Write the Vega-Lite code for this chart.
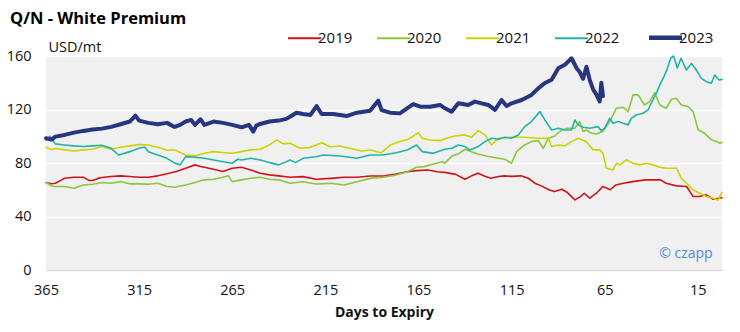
{
"$schema": "https://vega.github.io/schema/vega-lite/v6.json",
"width": 676, "height": 214,
"autosize": {"type": "none"},
"padding": {"left": 46, "top": 56, "right": 18, "bottom": 62},
"background": "white",
"config": {"view": {"fill": "#f0f0f0", "stroke": null}, "font": "Open Sans"},
"title": {"text": "Q/N - White Premium", "anchor": "start", "frame": "group", "fontSize": 16.5, "fontWeight": "bold", "color": "#000000", "dx": -36, "dy": 1},
"data": {"values": [
{"year":"2019","day":365,"value":65.4},{"year":"2019","day":362,"value":64.5},{"year":"2019","day":360,"value":64.9},{"year":"2019","day":357,"value":67},{"year":"2019","day":355,"value":68.6},{"year":"2019","day":350,"value":69.4},{"year":"2019","day":345,"value":69.4},{"year":"2019","day":342,"value":67},{"year":"2019","day":340,"value":66.9},{"year":"2019","day":337,"value":68.5},{"year":"2019","day":335,"value":69.1},{"year":"2019","day":330,"value":69.9},{"year":"2019","day":325,"value":70.4},{"year":"2019","day":320,"value":69.9},{"year":"2019","day":315,"value":69.4},{"year":"2019","day":310,"value":69.4},{"year":"2019","day":305,"value":70.4},{"year":"2019","day":300,"value":71.9},{"year":"2019","day":295,"value":73.6},{"year":"2019","day":290,"value":76.1},{"year":"2019","day":285,"value":78.6},{"year":"2019","day":282,"value":77.4},{"year":"2019","day":280,"value":76.8},{"year":"2019","day":275,"value":75.3},{"year":"2019","day":270,"value":73.6},{"year":"2019","day":265,"value":76.1},{"year":"2019","day":260,"value":76.8},{"year":"2019","day":255,"value":74.8},{"year":"2019","day":250,"value":72.4},{"year":"2019","day":245,"value":71.1},{"year":"2019","day":240,"value":70.4},{"year":"2019","day":234,"value":69.3},{"year":"2019","day":227,"value":69.8},{"year":"2019","day":220,"value":67.8},{"year":"2019","day":212,"value":68.5},{"year":"2019","day":205,"value":69.3},{"year":"2019","day":198,"value":69.3},{"year":"2019","day":191,"value":70.3},{"year":"2019","day":184,"value":70.3},{"year":"2019","day":177,"value":71.8},{"year":"2019","day":171,"value":73.5},{"year":"2019","day":166,"value":74.3},{"year":"2019","day":160,"value":74.8},{"year":"2019","day":155,"value":73.5},{"year":"2019","day":150,"value":72.8},{"year":"2019","day":145,"value":71.5},{"year":"2019","day":140,"value":67.9},{"year":"2019","day":136.5,"value":70.4},{"year":"2019","day":133,"value":72.4},{"year":"2019","day":129,"value":69.9},{"year":"2019","day":126,"value":68.6},{"year":"2019","day":122,"value":69.9},{"year":"2019","day":119,"value":70.4},{"year":"2019","day":115,"value":70},{"year":"2019","day":110,"value":70.4},{"year":"2019","day":106,"value":68.6},{"year":"2019","day":102.5,"value":64.9},{"year":"2019","day":99,"value":62.9},{"year":"2019","day":95,"value":60},{"year":"2019","day":92,"value":58.7},{"year":"2019","day":88,"value":60.4},{"year":"2019","day":85,"value":57.9},{"year":"2019","day":81,"value":52.4},{"year":"2019","day":78,"value":54.9},{"year":"2019","day":76,"value":57.4},{"year":"2019","day":73,"value":53.7},{"year":"2019","day":69.4,"value":57.4},{"year":"2019","day":66,"value":62.4},{"year":"2019","day":62,"value":60},{"year":"2019","day":59,"value":63.6},{"year":"2019","day":55,"value":64.9},{"year":"2019","day":50,"value":66.1},{"year":"2019","day":43,"value":67.4},{"year":"2019","day":35,"value":67.4},{"year":"2019","day":32,"value":64.9},{"year":"2019","day":26.5,"value":62.9},{"year":"2019","day":21,"value":62.4},{"year":"2019","day":17.5,"value":54.9},{"year":"2019","day":14,"value":54.9},{"year":"2019","day":10.4,"value":56.2},{"year":"2019","day":6.8,"value":52.9},{"year":"2019","day":4,"value":53.7},{"year":"2019","day":2,"value":54},
{"year":"2020","day":365,"value":65.4},{"year":"2020","day":362,"value":63},{"year":"2020","day":360,"value":62.4},{"year":"2020","day":355,"value":62.4},{"year":"2020","day":350,"value":61.1},{"year":"2020","day":345,"value":63.6},{"year":"2020","day":340,"value":64.1},{"year":"2020","day":335,"value":65.4},{"year":"2020","day":330,"value":64.9},{"year":"2020","day":325,"value":66.1},{"year":"2020","day":320,"value":64.4},{"year":"2020","day":315,"value":64.4},{"year":"2020","day":310,"value":64.1},{"year":"2020","day":305,"value":64.9},{"year":"2020","day":300,"value":62.4},{"year":"2020","day":296,"value":61.9},{"year":"2020","day":290,"value":63.6},{"year":"2020","day":285,"value":65.4},{"year":"2020","day":280,"value":67.4},{"year":"2020","day":275,"value":67.9},{"year":"2020","day":270,"value":69.4},{"year":"2020","day":267,"value":70.4},{"year":"2020","day":265,"value":66.1},{"year":"2020","day":260,"value":67.4},{"year":"2020","day":255,"value":68.6},{"year":"2020","day":250,"value":69.4},{"year":"2020","day":245,"value":67.9},{"year":"2020","day":240,"value":67.4},{"year":"2020","day":234,"value":64.8},{"year":"2020","day":227,"value":66},{"year":"2020","day":220,"value":64.3},{"year":"2020","day":212,"value":64.8},{"year":"2020","day":205,"value":63.6},{"year":"2020","day":198,"value":66},{"year":"2020","day":191,"value":68.5},{"year":"2020","day":184,"value":69.3},{"year":"2020","day":177,"value":71},{"year":"2020","day":171,"value":73.5},{"year":"2020","day":166,"value":76.8},{"year":"2020","day":162,"value":77.3},{"year":"2020","day":157,"value":79.3},{"year":"2020","day":152,"value":81},{"year":"2020","day":150.8,"value":79.8},{"year":"2020","day":147,"value":85.3},{"year":"2020","day":143.6,"value":86.8},{"year":"2020","day":140,"value":90.3},{"year":"2020","day":136.5,"value":88.5},{"year":"2020","day":133,"value":86.8},{"year":"2020","day":127.5,"value":84.8},{"year":"2020","day":122,"value":83.5},{"year":"2020","day":118.6,"value":82.8},{"year":"2020","day":115,"value":79.8},{"year":"2020","day":112.3,"value":88.5},{"year":"2020","day":108,"value":93.5},{"year":"2020","day":104.3,"value":96},{"year":"2020","day":100.7,"value":96.8},{"year":"2020","day":98,"value":91},{"year":"2020","day":95.3,"value":98.5},{"year":"2020","day":91.7,"value":100.2},{"year":"2020","day":88.2,"value":104.7},{"year":"2020","day":84.6,"value":106},{"year":"2020","day":81,"value":106},{"year":"2020","day":78.4,"value":111},{"year":"2020","day":76.6,"value":103.5},{"year":"2020","day":74.8,"value":104.7},{"year":"2020","day":72,"value":102.2},{"year":"2020","day":69.4,"value":101.7},{"year":"2020","day":66,"value":103.5},{"year":"2020","day":62.3,"value":111},{"year":"2020","day":58.7,"value":120.9},{"year":"2020","day":55,"value":121.7},{"year":"2020","day":52.4,"value":118.4},{"year":"2020","day":49.8,"value":130.9},{"year":"2020","day":47,"value":130.9},{"year":"2020","day":45.3,"value":127.1},{"year":"2020","day":43.5,"value":123.4},{"year":"2020","day":40.8,"value":125.9},{"year":"2020","day":38.1,"value":132.6},{"year":"2020","day":35.4,"value":123.4},{"year":"2020","day":32,"value":120.9},{"year":"2020","day":29.2,"value":127.6},{"year":"2020","day":26.5,"value":128.4},{"year":"2020","day":23.8,"value":123.4},{"year":"2020","day":20.2,"value":122.2},{"year":"2020","day":17.5,"value":118.4},{"year":"2020","day":14.8,"value":104.7},{"year":"2020","day":11.3,"value":102.2},{"year":"2020","day":7.7,"value":97.3},{"year":"2020","day":5,"value":96},{"year":"2020","day":3,"value":94.8},{"year":"2020","day":2,"value":95.5},
{"year":"2021","day":365,"value":91.8},{"year":"2021","day":362,"value":90},{"year":"2021","day":360,"value":90.8},{"year":"2021","day":355,"value":89.8},{"year":"2021","day":350,"value":89},{"year":"2021","day":345,"value":89.8},{"year":"2021","day":340,"value":90.3},{"year":"2021","day":335,"value":92.3},{"year":"2021","day":330,"value":90.3},{"year":"2021","day":325,"value":91.8},{"year":"2021","day":320,"value":92.8},{"year":"2021","day":315,"value":93.8},{"year":"2021","day":310,"value":93.5},{"year":"2021","day":305,"value":91.8},{"year":"2021","day":300,"value":89.5},{"year":"2021","day":296,"value":89.8},{"year":"2021","day":290,"value":86},{"year":"2021","day":285,"value":85.3},{"year":"2021","day":280,"value":87.3},{"year":"2021","day":275,"value":88.5},{"year":"2021","day":270,"value":87.8},{"year":"2021","day":265,"value":87.3},{"year":"2021","day":260,"value":88.5},{"year":"2021","day":255,"value":89.8},{"year":"2021","day":250,"value":90.3},{"year":"2021","day":245,"value":93.5},{"year":"2021","day":241,"value":97.3},{"year":"2021","day":238,"value":94.5},{"year":"2021","day":234,"value":94.7},{"year":"2021","day":228.6,"value":91},{"year":"2021","day":223,"value":91.7},{"year":"2021","day":217,"value":95.2},{"year":"2021","day":212.5,"value":92.2},{"year":"2021","day":207,"value":92.7},{"year":"2021","day":202,"value":91},{"year":"2021","day":195.5,"value":89},{"year":"2021","day":191,"value":89.7},{"year":"2021","day":185,"value":87.7},{"year":"2021","day":180,"value":93.5},{"year":"2021","day":175,"value":96},{"year":"2021","day":170.5,"value":97.7},{"year":"2021","day":165,"value":102.7},{"year":"2021","day":163,"value":98.4},{"year":"2021","day":158.8,"value":97.2},{"year":"2021","day":153.4,"value":96.7},{"year":"2021","day":150,"value":98.5},{"year":"2021","day":145.4,"value":100.2},{"year":"2021","day":140,"value":101},{"year":"2021","day":136.5,"value":99.2},{"year":"2021","day":132.9,"value":104.2},{"year":"2021","day":129.3,"value":101},{"year":"2021","day":125.7,"value":93.5},{"year":"2021","day":122.2,"value":98.5},{"year":"2021","day":115,"value":99.2},{"year":"2021","day":107.9,"value":99.2},{"year":"2021","day":100.7,"value":98.5},{"year":"2021","day":95.3,"value":98.5},{"year":"2021","day":93.5,"value":92.3},{"year":"2021","day":89.9,"value":93.5},{"year":"2021","day":86.4,"value":92.8},{"year":"2021","day":82.8,"value":96},{"year":"2021","day":79.2,"value":98.5},{"year":"2021","day":75,"value":96},{"year":"2021","day":71.2,"value":89.8},{"year":"2021","day":67.7,"value":89.8},{"year":"2021","day":65.9,"value":87.3},{"year":"2021","day":64.1,"value":76.1},{"year":"2021","day":60.5,"value":74.8},{"year":"2021","day":58.7,"value":79.8},{"year":"2021","day":56.9,"value":78.6},{"year":"2021","day":53.3,"value":82.3},{"year":"2021","day":49.8,"value":79.8},{"year":"2021","day":46.2,"value":78.6},{"year":"2021","day":42.6,"value":79.8},{"year":"2021","day":39,"value":78.6},{"year":"2021","day":35.4,"value":76.8},{"year":"2021","day":31.9,"value":76.1},{"year":"2021","day":26.5,"value":76.1},{"year":"2021","day":23.8,"value":68.6},{"year":"2021","day":21.1,"value":64.9},{"year":"2021","day":17.5,"value":60},{"year":"2021","day":14,"value":57.4},{"year":"2021","day":10.4,"value":54.9},{"year":"2021","day":6.8,"value":53.7},{"year":"2021","day":4.1,"value":52.4},{"year":"2021","day":2,"value":58},
{"year":"2022","day":365,"value":97},{"year":"2022","day":363,"value":100},{"year":"2022","day":360,"value":94.3},{"year":"2022","day":355,"value":93.5},{"year":"2022","day":350,"value":92.8},{"year":"2022","day":345,"value":92.3},{"year":"2022","day":340,"value":92.8},{"year":"2022","day":335,"value":93.3},{"year":"2022","day":330,"value":91},{"year":"2022","day":326,"value":86},{"year":"2022","day":320,"value":88.5},{"year":"2022","day":315,"value":91},{"year":"2022","day":312,"value":92},{"year":"2022","day":310,"value":88.5},{"year":"2022","day":305,"value":86},{"year":"2022","day":300,"value":83.5},{"year":"2022","day":296,"value":80},{"year":"2022","day":293,"value":78.6},{"year":"2022","day":290,"value":84.8},{"year":"2022","day":285,"value":84.3},{"year":"2022","day":280,"value":83.5},{"year":"2022","day":275,"value":82.3},{"year":"2022","day":270,"value":81},{"year":"2022","day":265,"value":79.8},{"year":"2022","day":262,"value":82.8},{"year":"2022","day":260,"value":82.3},{"year":"2022","day":255,"value":83.5},{"year":"2022","day":250,"value":82.3},{"year":"2022","day":245,"value":80.3},{"year":"2022","day":240,"value":78.6},{"year":"2022","day":237,"value":80.3},{"year":"2022","day":234,"value":82.3},{"year":"2022","day":231,"value":80.3},{"year":"2022","day":227,"value":83.5},{"year":"2022","day":220,"value":84.7},{"year":"2022","day":216,"value":86},{"year":"2022","day":207,"value":85.2},{"year":"2022","day":198,"value":83.5},{"year":"2022","day":191,"value":86},{"year":"2022","day":184,"value":86},{"year":"2022","day":177,"value":87.7},{"year":"2022","day":171,"value":89.7},{"year":"2022","day":166,"value":93.5},{"year":"2022","day":163,"value":88.5},{"year":"2022","day":157,"value":87.2},{"year":"2022","day":150.8,"value":90.3},{"year":"2022","day":147,"value":91},{"year":"2022","day":143.6,"value":93.5},{"year":"2022","day":140,"value":92.3},{"year":"2022","day":137.4,"value":89.8},{"year":"2022","day":132.9,"value":92.3},{"year":"2022","day":129.3,"value":96},{"year":"2022","day":125.7,"value":98.5},{"year":"2022","day":122.2,"value":97.7},{"year":"2022","day":118.6,"value":99.2},{"year":"2022","day":115,"value":98.5},{"year":"2022","day":111.4,"value":101},{"year":"2022","day":107.9,"value":107.2},{"year":"2022","day":104.3,"value":111},{"year":"2022","day":99.8,"value":118.4},{"year":"2022","day":97.1,"value":112.2},{"year":"2022","day":95.3,"value":108.5},{"year":"2022","day":93.5,"value":104.7},{"year":"2022","day":89.9,"value":106},{"year":"2022","day":86.4,"value":104.7},{"year":"2022","day":82.8,"value":104.7},{"year":"2022","day":81,"value":112.2},{"year":"2022","day":79.2,"value":108.5},{"year":"2022","day":76.6,"value":106.7},{"year":"2022","day":73,"value":106},{"year":"2022","day":68.6,"value":107.2},{"year":"2022","day":66.8,"value":104.2},{"year":"2022","day":65,"value":106},{"year":"2022","day":62.3,"value":113.4},{"year":"2022","day":60.5,"value":109.7},{"year":"2022","day":57.8,"value":111},{"year":"2022","day":55.1,"value":109.7},{"year":"2022","day":52.4,"value":108.5},{"year":"2022","day":50.7,"value":113.4},{"year":"2022","day":48,"value":115.9},{"year":"2022","day":44.4,"value":117.2},{"year":"2022","day":41.7,"value":119.7},{"year":"2022","day":39.5,"value":126},{"year":"2022","day":37,"value":133},{"year":"2022","day":35,"value":139.6},{"year":"2022","day":33,"value":145},{"year":"2022","day":31.5,"value":150},{"year":"2022","day":29.5,"value":158.5},{"year":"2022","day":28,"value":160},{"year":"2022","day":26,"value":151},{"year":"2022","day":24,"value":158.3},{"year":"2022","day":21.1,"value":149.5},{"year":"2022","day":18.4,"value":154.5},{"year":"2022","day":15.8,"value":149.5},{"year":"2022","day":13.1,"value":143.3},{"year":"2022","day":10.4,"value":140.8},{"year":"2022","day":7.7,"value":139.6},{"year":"2022","day":5.9,"value":145.8},{"year":"2022","day":3.6,"value":142.1},{"year":"2022","day":2,"value":142.5},
{"year":"2023","day":365,"value":98.5},{"year":"2023","day":362,"value":97.5},{"year":"2023","day":360,"value":99.7},{"year":"2023","day":355,"value":101},{"year":"2023","day":350,"value":102.7},{"year":"2023","day":345,"value":104},{"year":"2023","day":340,"value":105},{"year":"2023","day":335,"value":105.7},{"year":"2023","day":330,"value":107},{"year":"2023","day":325,"value":109},{"year":"2023","day":320,"value":111},{"year":"2023","day":317,"value":115.4},{"year":"2023","day":315,"value":111.7},{"year":"2023","day":310,"value":110},{"year":"2023","day":305,"value":109},{"year":"2023","day":300,"value":110},{"year":"2023","day":296,"value":107},{"year":"2023","day":293,"value":108.5},{"year":"2023","day":290,"value":111},{"year":"2023","day":287,"value":112.2},{"year":"2023","day":285,"value":108.5},{"year":"2023","day":282,"value":112.7},{"year":"2023","day":280,"value":108.5},{"year":"2023","day":275,"value":111},{"year":"2023","day":270,"value":110},{"year":"2023","day":265,"value":108.5},{"year":"2023","day":260,"value":106.7},{"year":"2023","day":256,"value":108.5},{"year":"2023","day":253.7,"value":103.5},{"year":"2023","day":252,"value":108},{"year":"2023","day":250,"value":109.2},{"year":"2023","day":245,"value":111},{"year":"2023","day":240,"value":111.7},{"year":"2023","day":236,"value":113},{"year":"2023","day":234,"value":114.6},{"year":"2023","day":230.5,"value":117.6},{"year":"2023","day":227,"value":116.6},{"year":"2023","day":223,"value":115.9},{"year":"2023","day":219.7,"value":122.6},{"year":"2023","day":217,"value":116.6},{"year":"2023","day":210.7,"value":116.6},{"year":"2023","day":203.6,"value":115.1},{"year":"2023","day":198,"value":117.6},{"year":"2023","day":191,"value":119},{"year":"2023","day":186.6,"value":126.6},{"year":"2023","day":184.8,"value":119.6},{"year":"2023","day":180.3,"value":117.6},{"year":"2023","day":175,"value":117.1},{"year":"2023","day":167.8,"value":124.1},{"year":"2023","day":164,"value":122.1},{"year":"2023","day":158.8,"value":122.1},{"year":"2023","day":153.4,"value":123.4},{"year":"2023","day":150.8,"value":120.9},{"year":"2023","day":147.2,"value":118.4},{"year":"2023","day":143.6,"value":124.6},{"year":"2023","day":138.3,"value":123.4},{"year":"2023","day":134.7,"value":125.9},{"year":"2023","day":131.1,"value":124.6},{"year":"2023","day":127.5,"value":123.4},{"year":"2023","day":123.9,"value":119.7},{"year":"2023","day":120.4,"value":127.1},{"year":"2023","day":117.7,"value":122.6},{"year":"2023","day":115,"value":124.6},{"year":"2023","day":109.6,"value":127.1},{"year":"2023","day":104.3,"value":130.9},{"year":"2023","day":100.7,"value":135.8},{"year":"2023","day":97.1,"value":139.8},{"year":"2023","day":93.5,"value":142.2},{"year":"2023","day":89.9,"value":150.9},{"year":"2023","day":86.4,"value":153.4},{"year":"2023","day":82.8,"value":158.3},{"year":"2023","day":80.1,"value":150.9},{"year":"2023","day":78.4,"value":148},{"year":"2023","day":76.6,"value":143},{"year":"2023","day":74.8,"value":152},{"year":"2023","day":73,"value":142},{"year":"2023","day":71.2,"value":135},{"year":"2023","day":69.4,"value":131},{"year":"2023","day":67.7,"value":126},{"year":"2023","day":66.8,"value":140},{"year":"2023","day":65.9,"value":130}
]},
"layer": [
{
"mark": {"type": "line", "strokeJoin": "round", "strokeCap": "round"},
"encoding": {
"x": {"field": "day", "type": "quantitative", "scale": {"domain": [2, 365], "reverse": true, "nice": false, "zero": false},
"axis": {"values": [365, 315, 265, 215, 165, 115, 65, 15], "labelFlush": false, "title": "Days to Expiry", "titleFontSize": 14, "titleFontWeight": "bold", "titleColor": "#111111", "titlePadding": 9, "labelFontSize": 14.5, "labelColor": "#111111", "labelPadding": 13, "ticks": false, "grid": false, "domain": true, "domainColor": "#dcdcdc", "domainWidth": 1.5}},
"y": {"field": "value", "type": "quantitative", "scale": {"domain": [0, 160], "nice": false, "zero": true},
"axis": {"values": [0, 40, 80, 120, 160], "title": "USD/mt", "titleAngle": 0, "titleAlign": "left", "titleBaseline": "alphabetic", "titleX": 2, "titleY": -5, "titleFontSize": 14.5, "titleFontWeight": "normal", "titleColor": "#111111", "labelFontSize": 14.5, "labelColor": "#111111", "labelPadding": 15, "domain": false, "ticks": false, "grid": true, "gridColor": "#ffffff", "gridWidth": 1.5}},
"color": {"field": "year", "type": "nominal", "scale": {"domain": ["2019", "2020", "2021", "2022", "2023"], "range": ["#d0131a", "#8cc63e", "#cbd300", "#22b2aa", "#28367f"]},
"legend": {"orient": "none", "direction": "horizontal", "legendX": 251, "legendY": -26, "title": null, "symbolType": "stroke", "symbolSize": 1089, "symbolStrokeWidth": 1.8, "labelFontSize": 15, "labelColor": "#111111", "labelOffset": 6, "columnPadding": 20,
"encode": {"symbols": {"update": {"strokeWidth": {"signal": "datum.label === '2023' ? 4.5 : 1.8"}}}}}},
"strokeWidth": {"condition": {"test": "datum.year === '2023'", "value": 4}, "value": 1.6}
}
},
{
"data": {"values": [{"label": "© czapp"}]},
"mark": {"type": "text", "align": "right", "baseline": "alphabetic", "fontSize": 14, "color": "#4a8fd6"},
"encoding": {"x": {"datum": 7}, "y": {"datum": 9}, "text": {"field": "label"}}
}
]
}
